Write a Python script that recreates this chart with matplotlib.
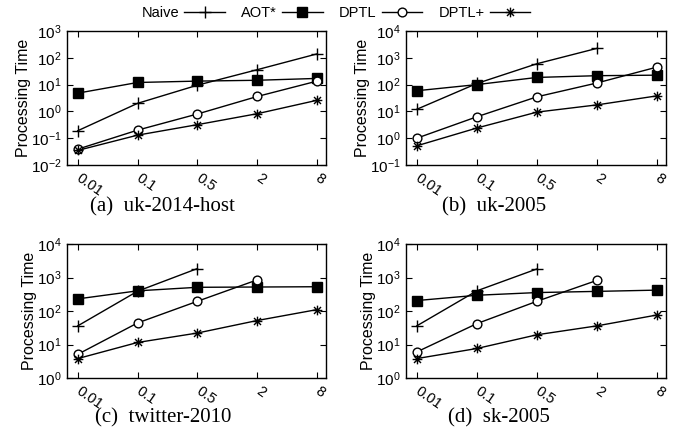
import numpy as np
import matplotlib
matplotlib.use("Agg")
import matplotlib.pyplot as plt
from matplotlib.ticker import LogLocator, LogFormatterSciNotation, NullLocator
from matplotlib.lines import Line2D
from matplotlib.path import Path

plt.rcParams['font.family'] = ['Liberation Sans', 'DejaVu Sans']
plt.rcParams['mathtext.fontset'] = 'custom'
plt.rcParams['mathtext.rm'] = 'Liberation Sans'

nan = np.nan
x_labels = ['0.01', '0.1', '0.5', '2', '8']
series_names = ['Naive', 'AOT*', 'DPTL', 'DPTL+']

a_naive = [0.19, 2.0, 9.5, 36, 140]
a_aot = [4.8, 12, 13.5, 14.5, 17]
a_dptl = [0.039, 0.2, 0.8, 3.6, 13.5]
a_dptlp = [0.035, 0.13, 0.32, 0.82, 2.6]

b_naive = [12, 110, 600, 2250, nan]
b_aot = [59, 100, 185, 215, 225]
b_dptl = [1.0, 6.3, 35, 115, 450]
b_dptlp = [0.52, 2.4, 9.4, 17.5, 38]

c_naive = [36, 390, 1850, nan, nan]
c_aot = [230, 400, 510, 520, 530]
c_dptl = [5.1, 44, 195, 850, nan]
c_dptlp = [3.8, 11.5, 22, 52, 110]

d_naive = [36, 400, 1800, nan, nan]
d_aot = [205, 295, 355, 385, 420]
d_dptl = [6, 42, 195, 820, nan]
d_dptlp = [3.8, 7.6, 19.5, 36, 76]

panels = [
    ('(a)  uk-2014-host', [a_naive, a_aot, a_dptl, a_dptlp], (1e-2, 1e3)),
    ('(b)  uk-2005', [b_naive, b_aot, b_dptl, b_dptlp], (1e-1, 1e4)),
    ('(c)  twitter-2010', [c_naive, c_aot, c_dptl, c_dptlp], (1e0, 1e4)),
    ('(d)  sk-2005', [d_naive, d_aot, d_dptl, d_dptlp], (1e0, 1e4)),
]

# gnuplot-style asterisk: + combined with x
ast = Path([(0, -1), (0, 1), (-1, 0), (1, 0), (-0.72, -0.72), (0.72, 0.72), (-0.72, 0.72), (0.72, -0.72)],
           [Path.MOVETO, Path.LINETO] * 4)

styles = [
    dict(marker='+', markersize=8, markeredgewidth=1.0, markerfacecolor='none'),
    dict(marker='s', markersize=7.3, markerfacecolor='black'),
    dict(marker='o', markersize=6.3, markerfacecolor='white', markeredgewidth=1.0),
    dict(marker=ast, markersize=7, markeredgewidth=1.0, markerfacecolor='none'),
]

W, H = 680, 433
fig = plt.figure(figsize=(6.8, 4.33), dpi=100)

boxes = [(67, 31, 326, 165), (406, 31, 666, 165), (67, 244, 326, 378), (406, 244, 666, 378)]
cap_pos = [(162, 207), (494, 207), (163, 418), (499, 418)]

x = np.arange(len(x_labels))
for (title, data, ylim), (l, t, r, b), (cx, cy) in zip(panels, boxes, cap_pos):
    ax = fig.add_axes([l / W, 1 - b / H, (r - l) / W, (b - t) / H])
    for vals, st, name in zip(data, styles, series_names):
        ax.plot(x, vals, color='black', linewidth=1.0, label=name, **st)
    ax.set_yscale('log')
    ax.set_ylim(*ylim)
    ax.set_xlim(-0.18, 4.15)
    ax.yaxis.set_major_locator(LogLocator(base=10, numticks=10))
    ax.yaxis.set_major_formatter(LogFormatterSciNotation())
    ax.yaxis.set_minor_locator(NullLocator())
    ax.set_xticks(x)
    ax.set_xticklabels(x_labels, rotation=-35, ha='left', va='center', rotation_mode='anchor')
    ax.tick_params(direction='in', top=True, right=True, length=4, width=0.8)
    ax.tick_params(axis='y', labelsize=11, pad=4)
    ax.tick_params(axis='x', labelsize=10.5, pad=8.5)
    for s in ax.spines.values():
        s.set_linewidth(1.0)
    ax.set_ylabel('Processing Time', fontsize=11.5, labelpad=0)
    fig.text(cx / W, 1 - cy / H, title, ha='center', va='center',
             family='Liberation Serif', fontsize=15)

handles = [Line2D([], [], color='black', linewidth=1.0, **st) for st in styles]
fig.legend(handles, series_names, loc='center', bbox_to_anchor=(336 / W, 1 - 13 / H),
           ncol=4, frameon=False, markerfirst=False, handlelength=2.8,
           handletextpad=0.35, columnspacing=1.1, fontsize=10.5)

fig.savefig('out.png', dpi=100)
